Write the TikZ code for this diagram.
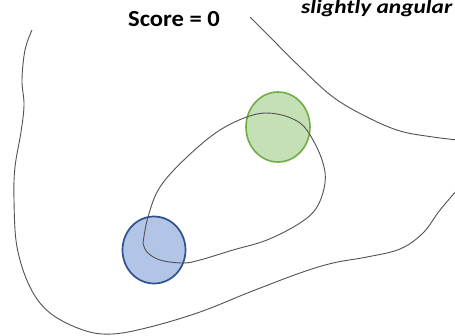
\documentclass[tikz,border=0pt]{standalone}
\usepackage{fontspec}
\usetikzlibrary{shapes.geometric}
\setmainfont{Carlito}
\newfontfamily\scorefont[FakeStretch=1.07]{Carlito}
\newfontfamily\notefont[FakeStretch=1.2]{Carlito}
\begin{document}
\begin{tikzpicture}[x=1pt,y=-1pt,
  curve/.style={draw=black!68, line width=0.9pt},
  greenball/.style={ellipse, draw={rgb,255:red,112;green,173;blue,71}, fill={rgb,255:red,197;green,224;blue,180}, line width=1.6pt, inner sep=0pt, minimum width=64pt, minimum height=70pt},
  blueball/.style={ellipse, draw={rgb,255:red,47;green,82;blue,143}, fill={rgb,255:red,178;green,197;blue,231}, line width=1.7pt, inner sep=0pt, minimum width=63pt, minimum height=67pt},
  lbl/.style={inner sep=0pt}
]
\useasboundingbox (0,0) rectangle (455,335);
\clip (0,0) rectangle (455,335);
\fill[white] (0,0) rectangle (455,335);

\node[greenball] (g) at (278,127) {};
\node[blueball] (b) at (154,250) {};

% outer boundary
\draw[curve] plot[smooth, tension=0.6] coordinates {(32,30) (25,50) (22,80) (24,105) (21,132) (15,167) (14,200) (17,247) (30,287) (50,313) (83,330) (112,334) (150,327) (200,312) (250,292) (300,273) (333,263) (367,257) (400,249) (423,233) (440,210) (458,189)};
% top-right boundary
\draw[curve] plot[smooth, tension=0.6] coordinates {(250,17) (267,34) (300,67) (333,97) (367,117) (400,131) (433,137) (458,140)};
% inner loop
\draw[curve] plot[smooth, tension=0.6] coordinates {(143,243) (148,217) (160,187) (187,157) (220,130) (253,115) (277,114) (300,123) (313,140) (323,163) (325,183) (317,207) (300,223) (267,240) (233,250) (200,260) (183,263) (160,260) (147,252) (143,243)};

\node[lbl, anchor=base, font=\scorefont\fontsize{23}{28}\selectfont\bfseries] (score) at (174,26) {Score = 0};
\node[lbl, anchor=base west, font=\notefont\fontsize{19.5}{24}\selectfont\bfseries\itshape] (note) at (301,13.5) {slightly angular};
\end{tikzpicture}
\end{document}
